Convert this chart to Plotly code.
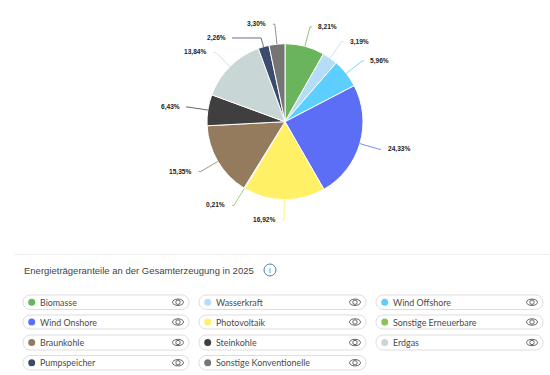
import math
import plotly.graph_objects as go

W, H = 550, 375
categories = ["Biomasse", "Wasserkraft", "Wind Offshore", "Wind Onshore", "Photovoltaik",
              "Sonstige Erneuerbare", "Braunkohle", "Steinkohle", "Erdgas", "Pumpspeicher",
              "Sonstige Konventionelle"]
values = [8.21, 3.19, 5.96, 24.33, 16.92, 0.21, 15.35, 6.43, 13.84, 2.26, 3.30]
colors = ["#6AB55C", "#B5DDF7", "#5CCFFF", "#5B6EF5", "#FFF066", "#8DC15B",
          "#957B5E", "#3F3F3F", "#C9D6D6", "#3C4A6B", "#757575"]
label_dy = [0, 0, 0, 0, 0, 0, 0, 0, 0, 10.5, 0]
title = "Energieträgeranteile an der Gesamterzeugung in 2025"
FONT = "Liberation Sans, Arial, sans-serif"
LEGEND_FONT = "Lato, Noto Sans, sans-serif"

CX, CY, R, RL = 285, 121.7, 78, 98


def px(x):
    return x / W


def py(y):
    return 1 - y / H


fig = go.Figure(go.Pie(
    labels=categories, values=values, sort=False, direction="clockwise", rotation=0,
    marker=dict(colors=colors, line=dict(color="#FFFFFF", width=1)),
    textinfo="none", hoverinfo="skip", showlegend=False,
    domain=dict(x=[px(CX - R), px(CX + R)], y=[py(CY + R), py(CY - R)]),
))

shapes, annotations = [], []
total = sum(values)
cum = 0.0
for v, c, dy in zip(values, colors, label_dy):
    a = 2 * math.pi * (cum + v / 2) / total
    cum += v
    s, co = math.sin(a), math.cos(a)
    left = s < 0
    ly = CY - RL * co + dy
    lx = CX + (-1 if left else 1) * math.sqrt(max(RL ** 2 - (ly - CY) ** 2, 0))
    sign = -1 if left else 1
    ex, ey = CX + R * s, CY - R * co
    t = (CY - ly) / co
    bx = CX + t * s
    path = f"M {px(ex)} {py(ey)} L {px(bx)} {py(ly)} L {px(lx + sign * 2)} {py(ly)}"
    shapes.append(dict(type="path", xref="paper", yref="paper", path=path,
                       line=dict(color=c, width=0.8)))
    annotations.append(dict(
        xref="paper", yref="paper", x=px(lx + sign * 7.5), y=py(ly),
        text="<b>" + f"{v:.2f}%".replace(".", ",") + "</b>", showarrow=False,
        xanchor="right" if left else "left", yanchor="middle", borderpad=0,
        font=dict(family=FONT, size=6.6, color="#222222"),
    ))

# separator, title and info icon
shapes.append(dict(type="line", xref="paper", yref="paper", x0=px(14), x1=1, y0=py(254.5), y1=py(254.5),
                   line=dict(color="#EEEEEE", width=1)))
annotations.append(dict(xref="paper", yref="paper", x=px(22.5), y=py(270), text=title, showarrow=False,
                        xanchor="left", yanchor="middle", borderpad=0,
                        font=dict(family=FONT, size=9.5, color="#444444")))
shapes.append(dict(type="circle", xref="paper", yref="paper", x0=px(264), x1=px(276), y0=py(276), y1=py(264),
                   line=dict(color="#4A7FB5", width=1)))
annotations.append(dict(xref="paper", yref="paper", x=px(270), y=py(270), text="i", showarrow=False,
                        xanchor="center", yanchor="middle", borderpad=0,
                        font=dict(family=FONT, size=8, color="#4A7FB5")))

# legend pills
col_x = [(23, 189), (199, 366), (376, 543)]
row_y = [(295, 309.5), (315, 329), (335, 350), (355.5, 370)]
for i, (name, c) in enumerate(zip(categories, colors)):
    x0, x1 = col_x[i % 3]
    y0, y1 = row_y[i // 3]
    ym = (y0 + y1) / 2
    rad = (y1 - y0) / 2
    n = 12
    pts = [(x0 + rad + rad * math.cos(math.pi / 2 + math.pi * k / n),
            ym - rad * math.sin(math.pi / 2 + math.pi * k / n)) for k in range(n + 1)]
    pts += [(x1 - rad + rad * math.cos(-math.pi / 2 + math.pi * k / n),
             ym - rad * math.sin(-math.pi / 2 + math.pi * k / n)) for k in range(n + 1)]
    path = "M " + " L ".join(f"{px(a)} {py(b)}" for a, b in pts) + " Z"
    shapes.append(dict(type="path", xref="paper", yref="paper", path=path,
                       line=dict(color="#DDDDDD", width=1), fillcolor="#FFFFFF"))
    dx = x0 + 8.7
    shapes.append(dict(type="circle", xref="paper", yref="paper", x0=px(dx - 3.5), x1=px(dx + 3.5),
                       y0=py(ym + 3.5), y1=py(ym - 3.5), fillcolor=c, line=dict(width=0)))
    annotations.append(dict(xref="paper", yref="paper", x=px(x0 + 16.3), y=py(ym), text=name, showarrow=False,
                            xanchor="left", yanchor="middle", borderpad=0,
                            font=dict(family=LEGEND_FONT, size=8.9, color="#4A4A4A")))
    ex = x1 - 11
    shapes.append(dict(type="circle", xref="paper", yref="paper", x0=px(ex - 5.5), x1=px(ex + 5.5),
                       y0=py(ym + 3.2), y1=py(ym - 3.2), line=dict(color="#666666", width=1)))
    shapes.append(dict(type="circle", xref="paper", yref="paper", x0=px(ex - 2.2), x1=px(ex + 2.2),
                       y0=py(ym + 2.2), y1=py(ym - 2.2), line=dict(color="#666666", width=1)))

fig.update_layout(width=W, height=H, margin=dict(l=0, r=0, t=0, b=0), paper_bgcolor="#FFFFFF",
                  shapes=shapes, annotations=annotations, showlegend=False)
fig.write_html("out.html", config={"displayModeBar": False},
               post_script="document.body.style.margin='0';document.documentElement.style.overflow='hidden';")
